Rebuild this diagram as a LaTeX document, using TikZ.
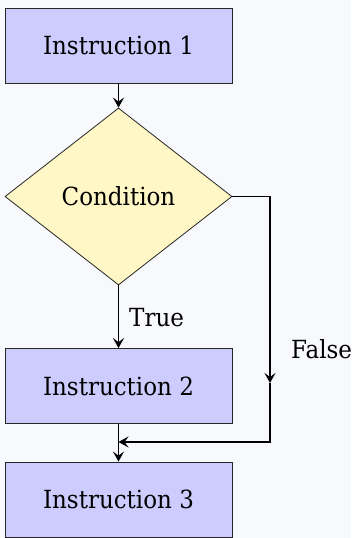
\documentclass[tikz,border=0pt]{standalone}
\usepackage{fontspec}
\setmainfont{DejaVu Serif}[FakeStretch=0.92]
\usetikzlibrary{shapes.geometric,arrows.meta}
\definecolor{bgc}{HTML}{F8F9FC}
\definecolor{boxc}{HTML}{CCCCFF}
\definecolor{decc}{HTML}{FFF8C6}
\tikzset{
  instbox/.style={rectangle, draw=black!85, line width=0.8pt, fill=boxc, minimum width=227pt, minimum height=75pt, inner sep=0pt},
  decision/.style={diamond, draw=black!85, line width=0.8pt, fill=decc, minimum width=227pt, minimum height=177pt, inner sep=0pt, aspect=1.28},
  arr/.style={-{Stealth[length=10pt,width=11pt,inset=4pt]}, line width=1.8pt, black},
  lbl/.style={anchor=base west, inner sep=0pt}
}
\begin{document}
\begin{tikzpicture}[x=1pt,y=-1pt, font=\fontsize{25}{30}\selectfont]
\fill[bgc] (0,0) rectangle (351,538);
\useasboundingbox (0,0) rectangle (351,538);
\node[instbox] (i1) at (118.5,45.5) {Instruction 1};
\node[decision] (c) at (118.5,196.5) {Condition};
\node[instbox] (i2) at (118.5,386) {Instruction 2};
\node[instbox] (i3) at (118.5,499.5) {Instruction 3};
\coordinate (fmid) at (270,383);
\coordinate (merge) at (118.5,442);
\node[lbl] (t) at (129,326) {True};
\node[lbl] (f) at (291,358) {False};
\draw[arr] (i1) -- (c);
\draw[arr] (c) -- (i2);
\draw[arr] (c.east) -| (fmid);
\draw[arr] (fmid) |- (merge);
\draw[arr] (i2) -- (i3);
\end{tikzpicture}
\end{document}
